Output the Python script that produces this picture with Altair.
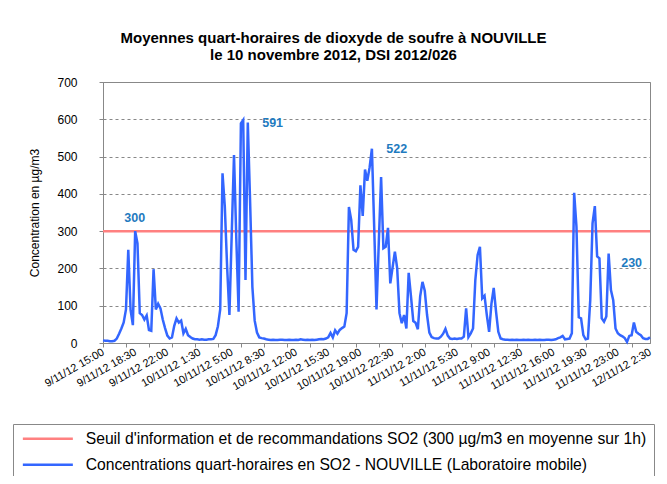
import altair as alt
import pandas as pd

# 15-minute SO2 concentrations (µg/m3), from 9/11/12 15:00 to 12/11/12 2:30
conc = [
    7, 6, 6, 5, 5, 6, 12, 25, 39, 55,
    90, 250, 89, 48, 300, 267, 80, 75, 63, 74,
    35, 33, 198, 90, 105, 93, 63, 40, 20, 12,
    15, 46, 66, 55, 60, 26, 38, 21, 16, 12,
    10, 10, 9, 10, 9, 9, 10, 10, 11, 21,
    45, 90, 455, 366, 205, 75, 290, 504, 280, 84,
    589, 598, 169, 591, 380, 150, 60, 28, 15, 13,
    12, 10, 9, 8, 9, 8, 8, 9, 9, 8,
    8, 9, 8, 8, 9, 8, 10, 9, 8, 9,
    8, 9, 8, 9, 10, 11, 10, 12, 15, 27,
    15, 34, 25, 35, 40, 44, 80, 365, 330, 250,
    246, 258, 423, 341, 465, 435, 471, 521, 310, 90,
    270, 445, 254, 258, 309, 160, 203, 245, 200, 80,
    53, 75, 39, 188, 125, 59, 54, 37, 125, 164,
    140, 75, 28, 16, 13, 12, 12, 17, 25, 38,
    20, 12, 11, 12, 11, 12, 12, 17, 93, 16,
    26, 39, 169, 236, 258, 120, 127, 75, 30, 105,
    148, 85, 30, 12, 10, 9, 9, 8, 9, 8,
    9, 8, 8, 9, 8, 9, 8, 8, 9, 8,
    9, 8, 8, 9, 9, 8, 9, 10, 13, 15,
    19, 10, 11, 12, 26, 403, 312, 69, 66, 21,
    10, 12, 115, 321, 367, 232, 227, 66, 57, 71,
    240, 142, 115, 39, 26, 21, 18, 13, 3, 19,
    21, 55, 30, 25, 21, 13, 11, 11, 15,
]

x_labels = [
    "9/11/12 15:00", "9/11/12 18:30", "9/11/12 22:00", "10/11/12 1:30",
    "10/11/12 5:00", "10/11/12 8:30", "10/11/12 12:00", "10/11/12 15:30",
    "10/11/12 19:00", "10/11/12 22:30", "11/11/12 2:00", "11/11/12 5:30",
    "11/11/12 9:00", "11/11/12 12:30", "11/11/12 16:00", "11/11/12 19:30",
    "11/11/12 23:00", "12/11/12 2:30",
]

threshold = 300
series_names = [
    "Seuil d'information et de recommandations SO2 (300 µg/m3 en moyenne sur 1h)",
    "Concentrations quart-horaires en SO2 - NOUVILLE (Laboratoire mobile)",
]
series_colors = ["#FF8080", "#3366FF"]

ann_x = [13.8, 73.8, 127.8, 230]
ann_y = [335, 590, 520, 215]
ann_text = ["300", "591", "522", "230"]

n = len(conc)
label_step = 14
tick_step = 10

df_line = pd.DataFrame({"i": list(range(n)), "v": conc, "s": series_names[1]})
df_thr = pd.DataFrame({"i": [0, n - 1], "v": [threshold, threshold], "s": series_names[0]})
df_ann = pd.DataFrame({"i": ann_x, "v": ann_y, "t": ann_text})

tick_vals = sorted(set(range(0, n, label_step)) | set(range(0, n, tick_step)))
arr = "[" + ",".join("'" + l + "'" for l in x_labels) + "]"
label_expr = f"datum.value % {label_step} === 0 ? {arr}[datum.value / {label_step}] : ''"

x_enc = alt.X(
    "i:Q",
    scale=alt.Scale(domain=[0, n - 1], nice=False, zero=False),
    axis=alt.Axis(
        values=tick_vals,
        labelExpr=label_expr,
        tickOpacity={"condition": {"test": f"datum.value % {tick_step} === 0", "value": 1}, "value": 0},
        grid=False,
        title=None,
        labelAngle=330,
        labelAlign="right",
        labelBaseline="middle",
        labelFontSize=11,
        labelColor="#000000",
        labelPadding=4,
        labelOverlap=False,
        labelFlush=False,
        labelBound=False,
        domainColor="#888888",
        tickColor="#888888",
        tickSize=4,
    ),
)
y_enc = alt.Y(
    "v:Q",
    scale=alt.Scale(domain=[0, 700], nice=False),
    axis=alt.Axis(
        values=list(range(0, 701, 100)),
        title="Concentration en µg/m3",
        titleFontSize=12,
        titleFontWeight="normal",
        titleColor="#000000",
        titlePadding=15,
        labelFontSize=12,
        labelColor="#000000",
        labelPadding=22,
        labelOverlap=False,
        grid=True,
        gridDash=[3, 3],
        gridColor="#888888",
        domainColor="#888888",
        tickColor="#888888",
        tickSize=4,
    ),
)
color_enc = alt.Color(
    "s:N",
    scale=alt.Scale(domain=series_names, range=series_colors),
    legend=alt.Legend(
        orient="none",
        legendX=-90,
        legendY=342,
        direction="vertical",
        title=None,
        strokeColor="#888888",
        fillColor="white",
        padding=7,
        symbolType="M-5,0H5",
        symbolSize=100,
        symbolStrokeWidth=2.5,
        symbolOffset=20,
        labelOffset=30,
        labelFontSize=15.7,
        labelColor="#000000",
        labelLimit=800,
        rowPadding=9,
    ),
)

thr = alt.Chart(df_thr).mark_line(strokeWidth=2.5).encode(x=x_enc, y=y_enc, color=color_enc)
line = alt.Chart(df_line).mark_line(strokeWidth=2.5).encode(x=x_enc, y=y_enc, color=color_enc)
text = alt.Chart(df_ann).mark_text(fontWeight="bold", fontSize=12.5, color="#1F7BC0").encode(
    x=x_enc, y=y_enc, text="t:N"
)

chart = (
    alt.layer(thr, line, text)
    .properties(
        width=547,
        height=261,
        autosize=alt.AutoSizeParams(type="none"),
        padding={"left": 95, "top": 74, "right": 9, "bottom": 133},
        title=alt.TitleParams(
            text=[
                "Moyennes quart-horaires de dioxyde de soufre à NOUVILLE",
                "le 10 novembre 2012, DSI 2012/026",
            ],
            fontSize=15,
            fontWeight="bold",
            color="#000000",
            anchor="middle",
            dx=-43,
            offset=13,
            lineHeight=17,
        ),
    )
    .configure(font="Liberation Sans")
    .configure_view(stroke="#888888", strokeWidth=1)
)

chart.save("out.html", embed_options={"renderer": "svg", "actions": False})
